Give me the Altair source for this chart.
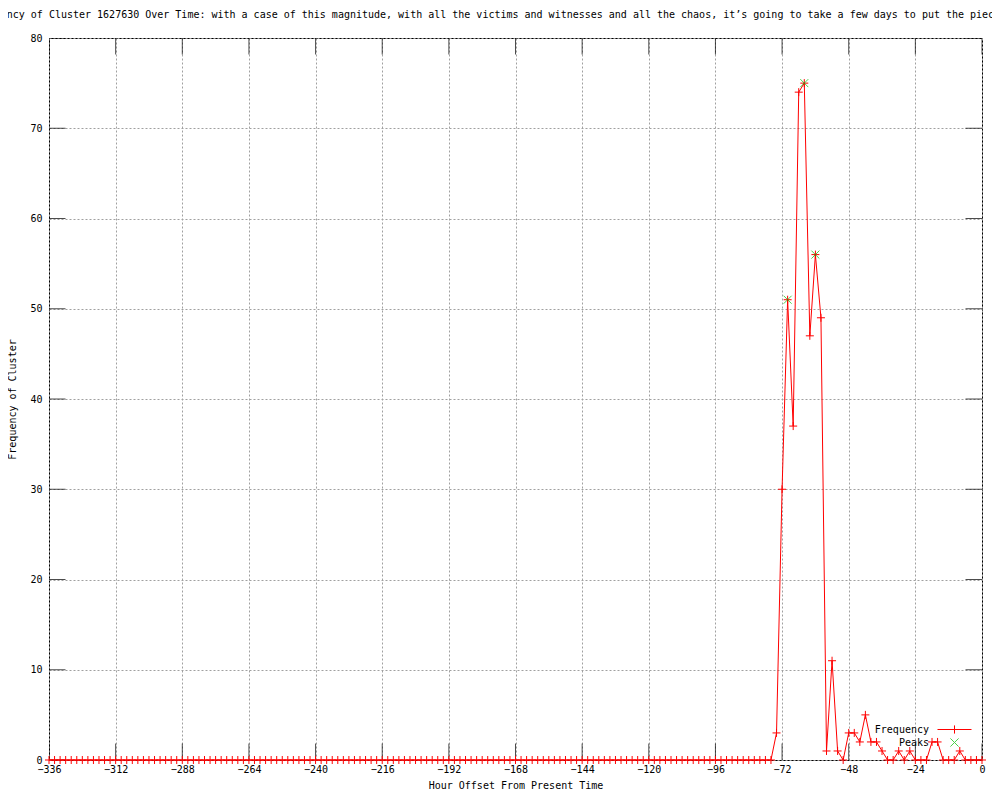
import altair as alt
import pandas as pd

FONT = "DejaVu Sans Mono"

TITLE = ("Frequency of Cluster 1627630 Over Time: with a case of this magnitude, with all the "
         "victims and witnesses and all the chaos, it\u2019s going to take a few days to put the pieces together")

# hour offsets (every 2 hours from -336 to 0)
hours = list(range(-336, 1, 2))

# frequency, one value per hour offset
freq = [
    0, 0, 0, 0, 0, 0, 0, 0, 0, 0, 0, 0, 0, 0, 0, 0, 0, 0, 0, 0,
    0, 0, 0, 0, 0, 0, 0, 0, 0, 0, 0, 0, 0, 0, 0, 0, 0, 0, 0, 0,
    0, 0, 0, 0, 0, 0, 0, 0, 0, 0, 0, 0, 0, 0, 0, 0, 0, 0, 0, 0,
    0, 0, 0, 0, 0, 0, 0, 0, 0, 0, 0, 0, 0, 0, 0, 0, 0, 0, 0, 0,
    0, 0, 0, 0, 0, 0, 0, 0, 0, 0, 0, 0, 0, 0, 0, 0, 0, 0, 0, 0,
    0, 0, 0, 0, 0, 0, 0, 0, 0, 0, 0, 0, 0, 0, 0, 0, 0, 0, 0, 0,
    0, 0, 0, 0, 0, 0, 0, 0, 0,
    # -78 .. 0
    0, 0, 3, 30, 51, 37, 74, 75, 47, 56,
    49, 1, 11, 1, 0, 3, 3, 2, 5, 2,
    2, 1, 0, 0, 1, 0, 1, 0, 0, 0,
    2, 2, 0, 0, 0, 1, 0, 0, 0, 0,
]

peak_hours = [-70, -64, -60]
peak_values = [51, 75, 56]

x_ticks = [-336, -312, -288, -264, -240, -216, -192, -168, -144, -120, -96, -72, -48, -24, 0]
y_ticks = [0, 10, 20, 30, 40, 50, 60, 70, 80]

df = pd.DataFrame({"hour": hours, "freq": freq, "series": "Frequency"})
dfp = pd.DataFrame({"hour": peak_hours, "freq": peak_values, "series": "Peaks"})
dfx = pd.DataFrame({"hour": x_ticks})
dfy = pd.DataFrame({"freq": y_ticks})

PLUS = "M-1,0H1M0,-1V1"
XSHAPE = "M-1,-1L1,1M-1,1L1,-1"

x_enc = alt.X(
    "hour:Q",
    scale=alt.Scale(domain=[-336, 0], nice=False, zero=False),
    axis=alt.Axis(
        values=x_ticks, format="d", title="Hour Offset From Present Time",
        ticks=False, tickSize=0, domain=False, grid=True,
        gridColor="#a0a0a0", gridDash=[2, 2], gridWidth=1,
        labelFlush=False, labelOverlap=False, labelPadding=4,
        labelFont=FONT, labelFontSize=10, labelColor="black",
        titleFont=FONT, titleFontSize=10, titleFontWeight="normal",
        titleColor="black", titlePadding=6,
    ),
)
y_enc = alt.Y(
    "freq:Q",
    scale=alt.Scale(domain=[0, 80], nice=False),
    axis=alt.Axis(
        values=y_ticks, format="d", title="Frequency of Cluster",
        ticks=False, tickSize=0, domain=False, grid=True,
        gridColor="#a0a0a0", gridDash=[2, 2], gridWidth=1,
        labelFlush=False, labelOverlap=False, labelPadding=7,
        labelFont=FONT, labelFontSize=10, labelColor="black",
        titleFont=FONT, titleFontSize=10, titleFontWeight="normal",
        titleColor="black", titlePadding=12,
    ),
)

freq_layer = alt.Chart(df).mark_line(
    strokeWidth=1,
    point=alt.OverlayMarkDef(shape=PLUS, size=64, filled=False, strokeWidth=1),
).encode(
    x=x_enc, y=y_enc,
    color=alt.Color(
        "series:N",
        scale=alt.Scale(domain=["Frequency"], range=["#ff0000"]),
        legend=alt.Legend(
            title=None, orient="none", legendX=888, legendY=674, padding=0,
            symbolType="M-1,0H1M0,-0.24V0.24", symbolSize=1156, symbolStrokeWidth=1,
            labelAlign="right", labelOffset={"expr": "-43"}, labelFont=FONT, labelFontSize=10,
            labelColor="black",
        ),
    ),
)

peak_layer = alt.Chart(dfp).mark_point(
    shape=XSHAPE, size=64, filled=False, strokeWidth=1
).encode(
    x=x_enc, y=y_enc,
    color=alt.Color(
        "series:N",
        scale=alt.Scale(domain=["Peaks"], range=["#00c000"]),
        legend=alt.Legend(
            title=None, orient="none", legendX=888, legendY=687, padding=0,
            symbolType="M-0.24,-0.24L0.24,0.24M-0.24,0.24L0.24,-0.24", symbolSize=1156,
            symbolStrokeWidth=1,
            labelAlign="right", labelOffset={"expr": "-43"}, labelFont=FONT, labelFontSize=10,
            labelColor="black",
        ),
    ),
)

tick_style = dict(size=33, thickness=1, color="black", clip=True)
xt_bottom = alt.Chart(dfx).mark_tick(orient="vertical", **tick_style).encode(x=x_enc, y=alt.datum(0))
xt_top = alt.Chart(dfx).mark_tick(orient="vertical", **tick_style).encode(x=x_enc, y=alt.datum(80))
yt_left = alt.Chart(dfy).mark_tick(orient="horizontal", **tick_style).encode(y=y_enc, x=alt.datum(-336))
yt_right = alt.Chart(dfy).mark_tick(orient="horizontal", **tick_style).encode(y=y_enc, x=alt.datum(0))

chart = alt.layer(
    xt_bottom, xt_top, yt_left, yt_right, freq_layer, peak_layer
).resolve_scale(color="independent").properties(
    width=933, height=722,
    title=alt.Title(text=TITLE, anchor="middle", frame="group", font=FONT, fontSize=10,
                    fontWeight="normal", color="black", offset=13),
    autosize=alt.AutoSizeParams(type="none"),
    padding={"left": 41, "top": 30, "right": 10, "bottom": 32},
).configure_view(stroke="black", strokeWidth=1)

chart.save("out.html", embed_options={"renderer": "svg", "actions": False})
